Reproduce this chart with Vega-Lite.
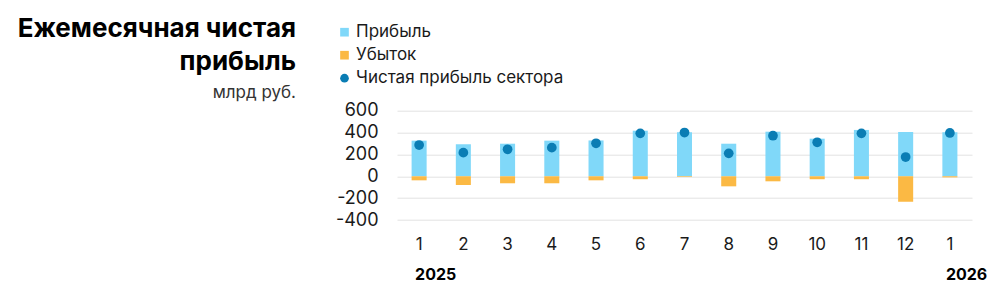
{
  "$schema": "https://vega.github.io/schema/vega-lite/v6.json",
  "autosize": "none",
  "width": 575,
  "height": 109.3,
  "padding": {"left": 397, "top": 110.7, "right": 28, "bottom": 80},
  "background": "white",
  "config": {
    "font": "Inter",
    "view": {"stroke": null},
    "axis": {"labelFont": "Inter", "labelColor": "#1a1a1a"},
    "legend": {"labelFont": "Inter"}
  },
  "title": {
    "text": ["Ежемесячная чистая", "прибыль"],
    "subtitle": "млрд руб.",
    "anchor": "start",
    "frame": "group",
    "align": "right",
    "dx": -101,
    "dy": 89,
    "offset": 12,
    "font": "Inter",
    "fontSize": 26,
    "fontWeight": "bold",
    "color": "#000000",
    "lineHeight": 33,
    "subtitleFont": "Inter",
    "subtitleFontSize": 17,
    "subtitleColor": "#333333",
    "subtitlePadding": 10
  },
  "data": {
    "values": [
      {"period": "2025-01", "series": "Прибыль", "value": 326},
      {"period": "2025-01", "series": "Убыток", "value": -37},
      {"period": "2025-01", "series": "Чистая прибыль сектора", "value": 286},
      {"period": "2025-02", "series": "Прибыль", "value": 293},
      {"period": "2025-02", "series": "Убыток", "value": -80},
      {"period": "2025-02", "series": "Чистая прибыль сектора", "value": 216},
      {"period": "2025-03", "series": "Прибыль", "value": 298},
      {"period": "2025-03", "series": "Убыток", "value": -64},
      {"period": "2025-03", "series": "Чистая прибыль сектора", "value": 247},
      {"period": "2025-04", "series": "Прибыль", "value": 326},
      {"period": "2025-04", "series": "Убыток", "value": -64},
      {"period": "2025-04", "series": "Чистая прибыль сектора", "value": 262},
      {"period": "2025-05", "series": "Прибыль", "value": 328},
      {"period": "2025-05", "series": "Убыток", "value": -37},
      {"period": "2025-05", "series": "Чистая прибыль сектора", "value": 302},
      {"period": "2025-06", "series": "Прибыль", "value": 417},
      {"period": "2025-06", "series": "Убыток", "value": -27},
      {"period": "2025-06", "series": "Чистая прибыль сектора", "value": 393},
      {"period": "2025-07", "series": "Прибыль", "value": 403},
      {"period": "2025-07", "series": "Убыток", "value": -6},
      {"period": "2025-07", "series": "Чистая прибыль сектора", "value": 400},
      {"period": "2025-08", "series": "Прибыль", "value": 298},
      {"period": "2025-08", "series": "Убыток", "value": -92},
      {"period": "2025-08", "series": "Чистая прибыль сектора", "value": 210},
      {"period": "2025-09", "series": "Прибыль", "value": 408},
      {"period": "2025-09", "series": "Убыток", "value": -46},
      {"period": "2025-09", "series": "Чистая прибыль сектора", "value": 371},
      {"period": "2025-10", "series": "Прибыль", "value": 344},
      {"period": "2025-10", "series": "Убыток", "value": -27},
      {"period": "2025-10", "series": "Чистая прибыль сектора", "value": 311},
      {"period": "2025-11", "series": "Прибыль", "value": 424},
      {"period": "2025-11", "series": "Убыток", "value": -27},
      {"period": "2025-11", "series": "Чистая прибыль сектора", "value": 393},
      {"period": "2025-12", "series": "Прибыль", "value": 405},
      {"period": "2025-12", "series": "Убыток", "value": -232},
      {"period": "2025-12", "series": "Чистая прибыль сектора", "value": 176},
      {"period": "2026-01", "series": "Прибыль", "value": 403},
      {"period": "2026-01", "series": "Убыток", "value": -10},
      {"period": "2026-01", "series": "Чистая прибыль сектора", "value": 396}
    ]
  },
  "layer": [
    {
      "transform": [{"filter": "datum.series !== 'Чистая прибыль сектора'"}],
      "mark": {"type": "bar", "width": {"band": 0.34}},
      "encoding": {
        "x": {
          "field": "period",
          "type": "ordinal",
          "scale": {"paddingInner": 0, "paddingOuter": 0},
          "axis": {
            "title": null,
            "labelAngle": 0,
            "domain": false,
            "ticks": false,
            "grid": false,
            "labelPadding": 16,
            "labelFontSize": 17,
            "labelOverlap": false,
            "labelExpr": "'' + toNumber(slice(datum.value, 5))"
          }
        },
        "y": {
          "field": "value",
          "type": "quantitative",
          "stack": null,
          "scale": {"domain": [-400, 600], "nice": false},
          "axis": {
            "title": null,
            "values": [-400, -200, 0, 200, 400, 600],
            "tickCount": 6,
            "domain": false,
            "ticks": false,
            "grid": true,
            "gridColor": "#e3e3e3",
            "labelPadding": 19,
            "labelFontSize": 18,
            "labelOverlap": false,
            "labelBound": false,
            "labelExpr": "'' + datum.value"
          }
        },
        "color": {
          "field": "series",
          "type": "nominal",
          "scale": {
            "domain": ["Прибыль", "Убыток", "Чистая прибыль сектора"],
            "range": ["#80d8f9", "#fbb944", "#0a7db4"]
          },
          "legend": {
            "title": null,
            "orient": "none",
            "legendX": -61,
            "legendY": -87,
            "padding": 0,
            "labelFontSize": 17,
            "labelColor": "#1a1a1a",
            "labelLimit": 400,
            "symbolSize": 75,
            "labelOffset": 3,
            "rowPadding": 5,
            "encode": {
              "symbols": {
                "update": {
                  "shape": {"signal": "datum.value === 'Чистая прибыль сектора' ? 'circle' : 'square'"}
                }
              }
            }
          }
        }
      }
    },
    {
      "transform": [{"filter": "datum.series === 'Чистая прибыль сектора'"}],
      "mark": {"type": "point", "shape": "circle", "filled": true, "opacity": 1, "size": 95},
      "encoding": {
        "x": {
          "field": "period",
          "type": "ordinal",
          "axis": {
            "title": null,
            "orient": "bottom",
            "labelAngle": 0,
            "domain": false,
            "ticks": false,
            "grid": false,
            "labelPadding": 46,
            "labelFontSize": 16,
            "labelFontWeight": "bold",
            "labelColor": "#000000",
            "labelAlign": "left",
            "labelOffset": -4,
            "labelOverlap": false,
            "labelExpr": "datum.value === '2025-01' ? '2025' : (datum.value === '2026-01' ? '2026' : '')"
          }
        },
        "y": {
          "field": "value",
          "type": "quantitative",
          "axis": {
            "title": null,
            "values": [-400, -200, 0, 200, 400, 600],
            "tickCount": 6,
            "domain": false,
            "ticks": false,
            "grid": true,
            "gridColor": "#e3e3e3",
            "labelPadding": 19,
            "labelFontSize": 18,
            "labelOverlap": false,
            "labelBound": false,
            "labelExpr": "'' + datum.value"
          }
        },
        "color": {"field": "series", "type": "nominal"}
      }
    }
  ],
  "resolve": {"axis": {"x": "independent"}}
}
